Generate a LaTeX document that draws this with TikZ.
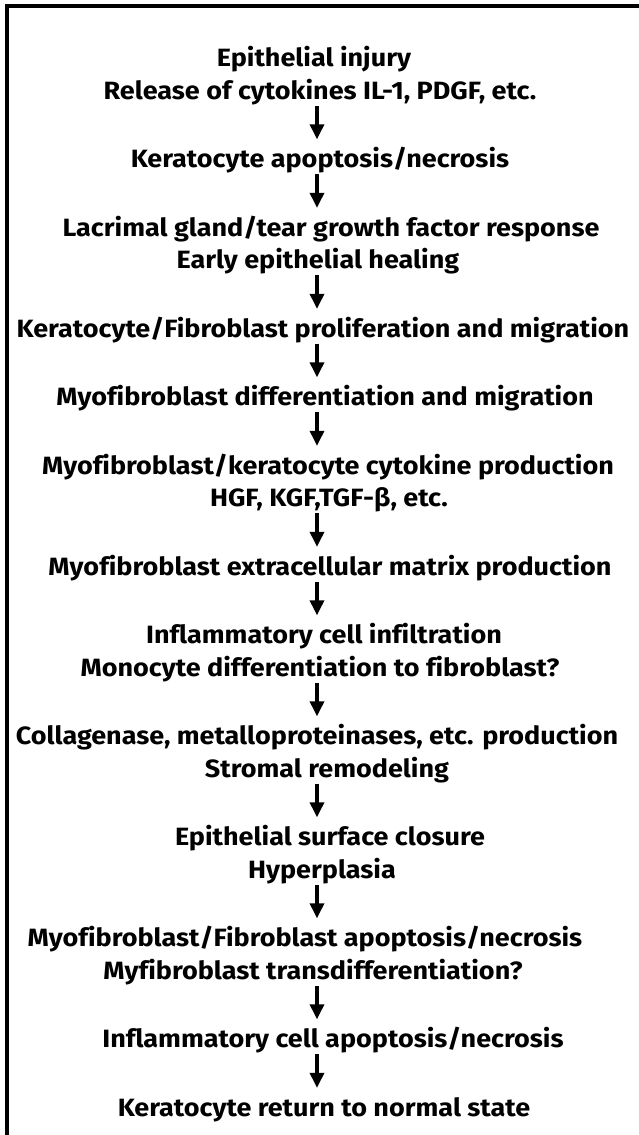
\documentclass[tikz,border=0pt]{standalone}
\usepackage{fontspec}
\setmainfont{Fira Sans}[FakeStretch=1.08,Ligatures=CommonOff]
\usetikzlibrary{arrows.meta}
\tikzset{
  stage/.style={font=\bfseries\fontsize{25}{29}\selectfont,inner sep=0pt,text height=17pt,text depth=6pt,anchor=base},
  flow/.style={-{Triangle[length=15pt,width=14pt]},line width=3.4pt,shorten <=0.5pt,shorten >=11pt},
  frame/.style={line width=3.5pt}
}

\begin{document}
\begin{tikzpicture}[x=1pt,y=-1pt]
  \useasboundingbox (0,0) rectangle (639,1135);
  \draw[frame] (7,1135) -- (7,6) -- (639,6);
  \coordinate (ax) at (317,0);
  % wound healing cascade, top to bottom
  \node[stage] (injury) at (314,66.5) {Epithelial injury};
  \node[stage] (release) at (320,99) {Release of cytokines IL-1, PDGF, etc.};
  \node[stage] (kerapop) at (320,167.5) {Keratocyte apoptosis/necrosis};
  \node[stage] (lacrimal) at (331,236) {Lacrimal gland/tear growth factor response};
  \node[stage] (healing) at (318,268.5) {Early epithelial healing};
  \node[stage] (prolif) at (323,337) {Keratocyte/Fibroblast proliferation and migration};
  \node[stage] (myodiff) at (325,405.5) {Myofibroblast differentiation and migration};
  \node[stage] (cytokine) at (328,474) {Myofibroblast/keratocyte cytokine production};
  \node[stage] (factors) at (329,506.5) {HGF, KGF,TGF-β, etc.};
  \node[stage] (matrix) at (330,575) {Myofibroblast extracellular matrix production};
  \node[stage] (inflam) at (324,643.5) {Inflammatory cell infiltration};
  \node[stage] (monocyte) at (320,676) {Monocyte differentiation to fibroblast?};
  \node[stage] (collagen) at (317,744.5) {Collagenase, metalloproteinases, etc. production};
  \node[stage] (remodel) at (327,777) {Stromal remodeling};
  \node[stage] (closure) at (330,845.5) {Epithelial surface closure};
  \node[stage] (hyper) at (322,878) {Hyperplasia};
  \node[stage] (myoapop) at (305,946.5) {Myofibroblast/Fibroblast apoptosis/necrosis};
  \node[stage] (transdiff) at (313,979) {Myfibroblast transdifferentiation?};
  \node[stage] (inflapop) at (333,1047.5) {Inflammatory cell apoptosis/necrosis};
  \node[stage] (normal) at (324,1116) {Keratocyte return to normal state};
  % arrows between the stages
  \draw[flow] (release.south -| ax) -- (kerapop.north -| ax);
  \draw[flow] (kerapop.south -| ax) -- (lacrimal.north -| ax);
  \draw[flow] (healing.south -| ax) -- (prolif.north -| ax);
  \draw[flow] (prolif.south -| ax) -- (myodiff.north -| ax);
  \draw[flow] (myodiff.south -| ax) -- (cytokine.north -| ax);
  \draw[flow] (factors.south -| ax) -- (matrix.north -| ax);
  \draw[flow] (matrix.south -| ax) -- (inflam.north -| ax);
  \draw[flow] (monocyte.south -| ax) -- (collagen.north -| ax);
  \draw[flow] (remodel.south -| ax) -- (closure.north -| ax);
  \draw[flow] (hyper.south -| ax) -- (myoapop.north -| ax);
  \draw[flow] (transdiff.south -| ax) -- (inflapop.north -| ax);
  \draw[flow] (inflapop.south -| ax) -- (normal.north -| ax);
\end{tikzpicture}
\end{document}
